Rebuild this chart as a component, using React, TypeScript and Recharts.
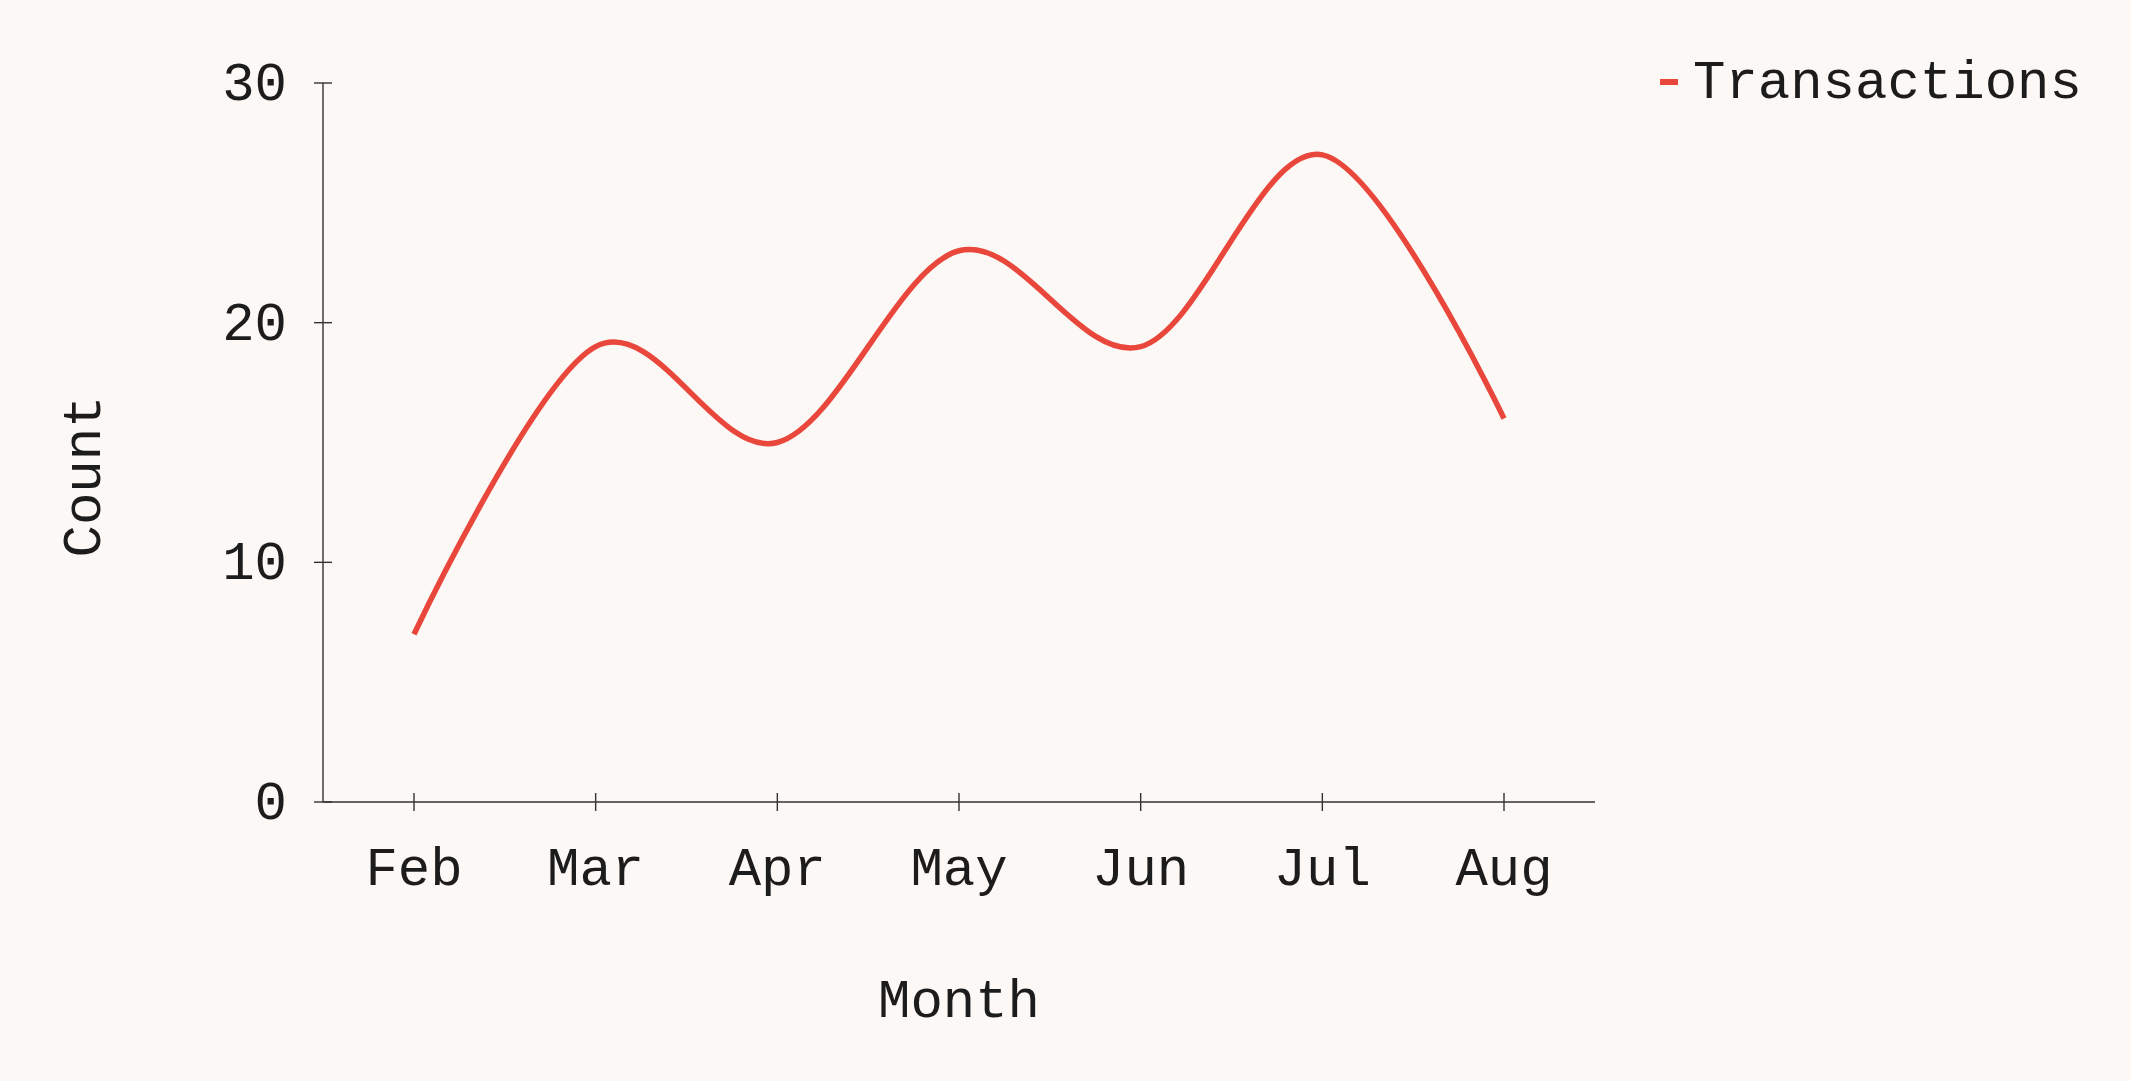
import { Line, LineChart, XAxis, YAxis, Legend } from "recharts";

const months = ["Feb", "Mar", "Apr", "May", "Jun", "Jul", "Aug"];
const transactions = [7, 19, 15, 23, 19, 27, 16];
const yTicks = [0, 10, 20, 30];

const data = months.map((m, i) => ({ month: m, transactions: transactions[i] }));

const FONT = "'Liberation Mono', 'DejaVu Sans Mono', monospace";
const INK = "#1c1c1c";
const AXIS = "#333";
const RED = "#e9473b";
const BG = "#fbf8f5";

// cardinal spline (tension 0), same scheme as d3's curveCardinal
function cardinalCurve(context: any) {
  const k = 1 / 6;
  let x0 = NaN, x1 = NaN, x2 = NaN, y0 = NaN, y1 = NaN, y2 = NaN;
  let pt = 0;
  let line = NaN;
  const seg = (x: number, y: number) => {
    context.bezierCurveTo(x1 + k * (x2 - x0), y1 + k * (y2 - y0), x2 + k * (x1 - x), y2 + k * (y1 - y), x2, y2);
  };
  return {
    areaStart() { line = 0; },
    areaEnd() { line = NaN; },
    lineStart() { x0 = x1 = x2 = y0 = y1 = y2 = NaN; pt = 0; },
    lineEnd() {
      if (pt === 2) context.lineTo(x2, y2);
      else if (pt === 3) seg(x1, y1);
      if (line || (line !== 0 && pt === 1)) context.closePath();
      line = 1 - line;
    },
    point(x: number, y: number) {
      x = +x; y = +y;
      if (pt === 0) {
        pt = 1;
        line ? context.lineTo(x, y) : context.moveTo(x, y);
      } else if (pt === 1) {
        pt = 2;
        x1 = x; y1 = y;
      } else {
        pt = 3;
        seg(x, y);
      }
      x0 = x1; x1 = x2; x2 = x;
      y0 = y1; y1 = y2; y2 = y;
    },
  };
}

function XTick(props: any) {
  const { x, y, payload } = props;
  return (
    <g>
      <line x1={x} x2={x} y1={y - 9} y2={y + 9} stroke={AXIS} strokeWidth={1.4} />
      <text x={x} y={y + 83} textAnchor="middle" fontFamily={FONT} fontSize={54} fill={INK}>
        {payload.value}
      </text>
    </g>
  );
}

function YTick(props: any) {
  const { x, y, payload } = props;
  return (
    <g>
      <line x1={x - 9} x2={x + 9} y1={y} y2={y} stroke={AXIS} strokeWidth={1.4} />
      <text x={x - 36} y={y + 17} textAnchor="end" fontFamily={FONT} fontSize={54} fill={INK}>
        {payload.value}
      </text>
    </g>
  );
}

function LegendBox() {
  return (
    <svg width={460} height={70}>
      <rect x={10} y={29} width={18} height={6} fill={RED} />
      <text x={43} y={48} fontFamily={FONT} fontSize={54} fill={INK}>
        Transactions
      </text>
    </svg>
  );
}

export default function App() {
  return (
    <div style={{ position: "absolute", left: 0, top: 0, width: 2131, height: 1081, background: BG }}>
      <LineChart
        width={2131}
        height={1081}
        data={data}
        margin={{ top: 83, right: 536, bottom: 208, left: 322 }}
      >
        <XAxis
          dataKey="month"
          height={1}
          padding={{ left: 91, right: 91 }}
          stroke={AXIS}
          strokeWidth={1.4}
          tickLine={false}
          tickSize={0}
          tickMargin={0}
          tick={<XTick />}
          interval={0}
          label={(p: any) => {
            const vb = p.viewBox;
            return (
              <text x={vb.x + vb.width / 2} y={vb.y + 215} textAnchor="middle" fontFamily={FONT} fontSize={54} fill={INK}>
                Month
              </text>
            );
          }}
        />
        <YAxis
          width={1}
          domain={[0, 30]}
          ticks={yTicks}
          stroke={AXIS}
          strokeWidth={1.4}
          tickLine={false}
          tickSize={0}
          tickMargin={0}
          tick={<YTick />}
          label={(p: any) => {
            const vb = p.viewBox;
            const lx = 100;
            const ly = vb.y + vb.height / 2 + 34;
            return (
              <text
                x={lx}
                y={ly}
                transform={`rotate(-90, ${lx}, ${ly})`}
                textAnchor="middle"
                fontFamily={FONT}
                fontSize={54}
                fill={INK}
              >
                Count
              </text>
            );
          }}
        />
        <Legend
          content={() => <LegendBox />}
          wrapperStyle={{ position: "absolute", left: 1650, top: 50, width: 460, height: 70 }}
        />
        <Line
          type={cardinalCurve as any}
          dataKey="transactions"
          name="Transactions"
          stroke={RED}
          strokeWidth={5.5}
          dot={false}
          activeDot={false}
          isAnimationActive={false}
        />
      </LineChart>
    </div>
  );
}
